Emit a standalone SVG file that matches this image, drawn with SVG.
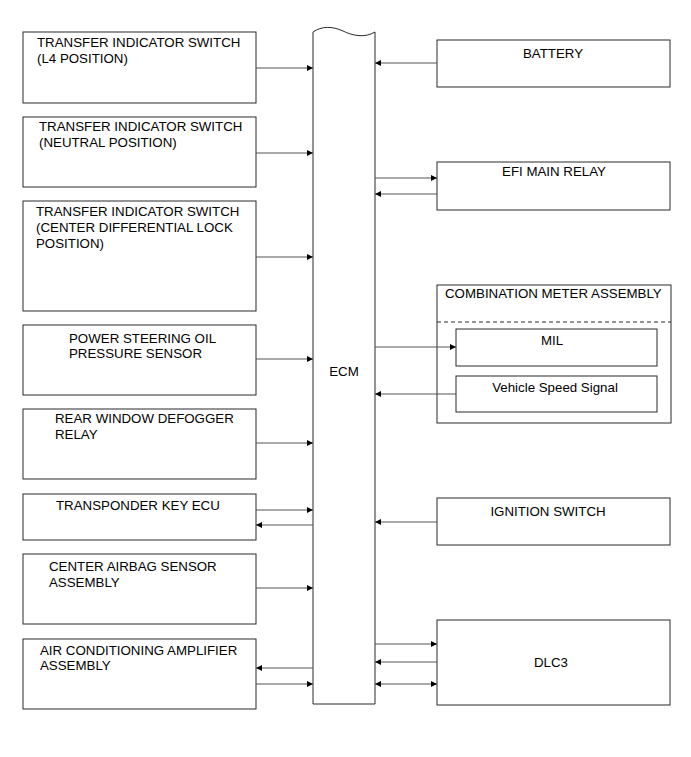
<svg xmlns="http://www.w3.org/2000/svg" width="691" height="757" viewBox="0 0 691 757">
<style>
.box{fill:#fff;stroke:#2a2a2a;stroke-width:1}
.t{font-family:"Liberation Sans",Arial,sans-serif;font-size:13.3px;fill:#000}
.c{text-anchor:middle}
.ln{stroke:#555;stroke-width:1;fill:none}
.dash{stroke:#2a2a2a;stroke-width:1;stroke-dasharray:4,3}
</style>
<defs>
<marker id="ah" viewBox="0 0 10 10" refX="10" refY="5" markerWidth="10" markerHeight="6" markerUnits="userSpaceOnUse" orient="auto-start-reverse">
<path d="M0,0 L10,5 L0,10 z" fill="#000"/>
</marker>
</defs>
<rect width="691" height="757" fill="#fff"/>

<g id="ecm">
<path class="box" d="M313,32 C322,26 332,26 343,31 C353,36 365,38 375,32 L375,704 L313,704 Z"/>
<text class="t c" x="344" y="376">ECM</text>
</g>

<g id="tis-l4">
<rect class="box" x="23" y="32" width="233" height="71"/>
<text class="t" x="37" y="47">TRANSFER INDICATOR SWITCH</text>
<text class="t" x="37" y="63">(L4 POSITION)</text>
</g>
<g id="tis-neutral">
<rect class="box" x="23" y="117" width="233" height="70"/>
<text class="t" x="39" y="131">TRANSFER INDICATOR SWITCH</text>
<text class="t" x="39" y="147">(NEUTRAL POSITION)</text>
</g>
<g id="tis-cdl">
<rect class="box" x="23" y="201" width="233" height="110"/>
<text class="t" x="36" y="216">TRANSFER INDICATOR SWITCH</text>
<text class="t" x="36" y="232">(CENTER DIFFERENTIAL LOCK</text>
<text class="t" x="36" y="248">POSITION)</text>
</g>
<g id="ps-oil">
<rect class="box" x="23" y="325" width="233" height="70"/>
<text class="t" x="69" y="343">POWER STEERING OIL</text>
<text class="t" x="69" y="358">PRESSURE SENSOR</text>
</g>
<g id="rear-defogger">
<rect class="box" x="23" y="409" width="233" height="70"/>
<text class="t" x="55" y="423">REAR WINDOW DEFOGGER</text>
<text class="t" x="55" y="439">RELAY</text>
</g>
<g id="transponder">
<rect class="box" x="23" y="494" width="233" height="46"/>
<text class="t" x="56" y="510">TRANSPONDER KEY ECU</text>
</g>
<g id="airbag">
<rect class="box" x="23" y="554" width="233" height="70"/>
<text class="t" x="49" y="571">CENTER AIRBAG SENSOR</text>
<text class="t" x="49" y="587">ASSEMBLY</text>
</g>
<g id="ac-amp">
<rect class="box" x="23" y="639" width="233" height="70"/>
<text class="t" x="40" y="655">AIR CONDITIONING AMPLIFIER</text>
<text class="t" x="40" y="670">ASSEMBLY</text>
</g>

<g id="battery">
<rect class="box" x="437" y="40" width="233" height="47"/>
<text class="t c" x="553" y="58">BATTERY</text>
</g>
<g id="efi-relay">
<rect class="box" x="437" y="162" width="233" height="48"/>
<text class="t c" x="554" y="176">EFI MAIN RELAY</text>
</g>
<g id="combination-meter">
<rect class="box" x="437" y="285" width="234" height="138"/>
<text class="t" x="445" y="298">COMBINATION METER ASSEMBLY</text>
<line class="dash" x1="437" y1="322" x2="671" y2="322"/>
<g id="mil">
<rect class="box" x="456" y="329" width="201" height="37"/>
<text class="t c" x="552" y="345">MIL</text>
</g>
<g id="vss">
<rect class="box" x="456" y="376" width="201" height="36"/>
<text class="t c" x="555" y="392">Vehicle Speed Signal</text>
</g>
</g>
<g id="ignition">
<rect class="box" x="437" y="498" width="233" height="47"/>
<text class="t c" x="548" y="516">IGNITION SWITCH</text>
</g>
<g id="dlc3">
<rect class="box" x="437" y="620" width="233" height="85"/>
<text class="t c" x="551" y="667">DLC3</text>
</g>

<g id="connectors">
<line class="ln" x1="256" y1="68" x2="313" y2="68" marker-end="url(#ah)"/>
<line class="ln" x1="256" y1="153" x2="313" y2="153" marker-end="url(#ah)"/>
<line class="ln" x1="256" y1="257" x2="313" y2="257" marker-end="url(#ah)"/>
<line class="ln" x1="256" y1="359" x2="313" y2="359" marker-end="url(#ah)"/>
<line class="ln" x1="256" y1="443" x2="313" y2="443" marker-end="url(#ah)"/>
<line class="ln" x1="256" y1="510" x2="313" y2="510" marker-end="url(#ah)"/>
<line class="ln" x1="313" y1="525" x2="256" y2="525" marker-end="url(#ah)"/>
<line class="ln" x1="256" y1="588" x2="313" y2="588" marker-end="url(#ah)"/>
<line class="ln" x1="313" y1="668" x2="256" y2="668" marker-end="url(#ah)"/>
<line class="ln" x1="256" y1="684" x2="313" y2="684" marker-end="url(#ah)"/>

<line class="ln" x1="437" y1="63" x2="375" y2="63" marker-end="url(#ah)"/>
<line class="ln" x1="375" y1="178" x2="437" y2="178" marker-end="url(#ah)"/>
<line class="ln" x1="437" y1="194" x2="375" y2="194" marker-end="url(#ah)"/>
<line class="ln" x1="375" y1="347" x2="456" y2="347" marker-end="url(#ah)"/>
<line class="ln" x1="456" y1="394" x2="375" y2="394" marker-end="url(#ah)"/>
<line class="ln" x1="437" y1="522" x2="375" y2="522" marker-end="url(#ah)"/>
<line class="ln" x1="375" y1="644" x2="437" y2="644" marker-end="url(#ah)"/>
<line class="ln" x1="437" y1="662" x2="375" y2="662" marker-end="url(#ah)"/>
<line class="ln" x1="375" y1="684" x2="437" y2="684" marker-start="url(#ah)" marker-end="url(#ah)"/>
</g>
</svg>
